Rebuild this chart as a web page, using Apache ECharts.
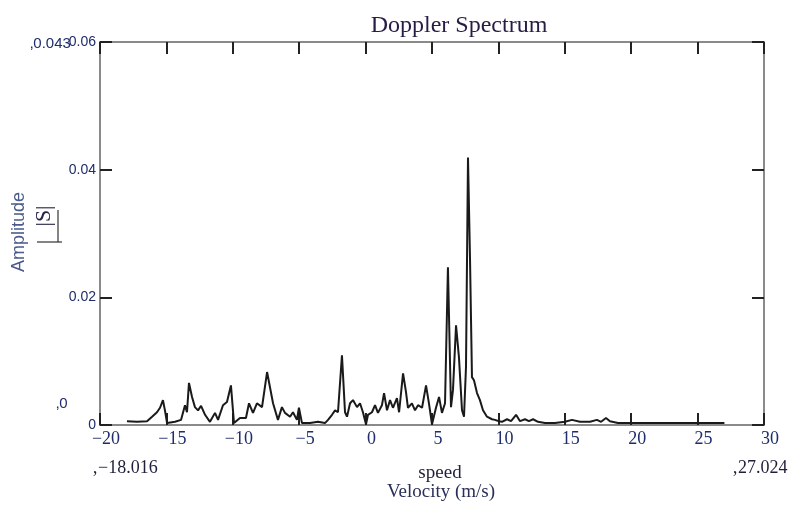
<!DOCTYPE html>
<html>
<head>
<meta charset="utf-8">
<script src="https://cdn.jsdelivr.net/npm/echarts@6/dist/echarts.min.js"></script>
<style>
html,body{margin:0;padding:0;background:#fff;}
#chart{width:791px;height:507px;}
</style>
</head>
<body>
<div id="chart"></div>
<script>
// Data
var velocity = [-17.97,-17.21,-16.46,-16.08,-15.71,-15.48,-15.26,-15.11,-14.95,-14.35,-13.90,-13.60,-13.45,-13.30,-13.07,-12.85,-12.62,-12.39,-12.09,-11.72,-11.34,-11.11,-10.74,-10.44,-10.14,-9.91,-9.46,-9.01,-8.78,-8.48,-8.18,-7.80,-7.42,-6.97,-6.60,-6.30,-6.07,-5.69,-5.47,-5.17,-5.02,-4.79,-4.19,-3.58,-3.06,-2.83,-2.53,-2.30,-2.08,-1.78,-1.55,-1.40,-1.17,-0.95,-0.65,-0.42,-0.20,0.03,0.18,0.48,0.71,0.93,1.23,1.39,1.61,1.84,2.06,2.36,2.52,2.82,3.04,3.19,3.49,3.72,3.95,4.25,4.55,4.77,5.00,5.30,5.53,5.75,5.98,6.20,6.43,6.58,6.81,7.03,7.26,7.41,7.56,7.71,7.86,8.01,8.16,8.39,8.61,8.84,9.14,9.52,9.74,10.05,10.27,10.65,10.95,11.33,11.63,12.00,12.30,12.61,12.98,13.51,14.26,15.02,15.54,16.14,16.90,17.42,17.73,18.10,18.40,19.01,19.91,21.42,22.92,24.43,25.93,27.02];
var amplitude = [0.0006,0.0005,0.0006,0.0013,0.0020,0.0027,0.0039,0.0023,0.0003,0.0005,0.0008,0.0031,0.0020,0.0066,0.0044,0.0028,0.0023,0.0030,0.0016,0.0005,0.0019,0.0008,0.0031,0.0036,0.0062,0.0003,0.0011,0.0011,0.0034,0.0019,0.0034,0.0028,0.0083,0.0034,0.0008,0.0028,0.0019,0.0013,0.0020,0.0008,0.0027,0.0003,0.0003,0.0005,0.0003,0.0008,0.0016,0.0023,0.0020,0.0109,0.0020,0.0013,0.0034,0.0039,0.0028,0.0034,0.0020,0.0001,0.0016,0.0020,0.0031,0.0019,0.0031,0.0050,0.0023,0.0039,0.0027,0.0042,0.0020,0.0081,0.0052,0.0027,0.0034,0.0023,0.0031,0.0027,0.0062,0.0034,0.0001,0.0027,0.0044,0.0019,0.0034,0.0247,0.0028,0.0055,0.0156,0.0106,0.0023,0.0013,0.0091,0.0419,0.0263,0.0075,0.0070,0.0050,0.0039,0.0023,0.0013,0.0009,0.0008,0.0006,0.0005,0.0009,0.0006,0.0016,0.0006,0.0009,0.0006,0.0009,0.0005,0.0003,0.0003,0.0005,0.0008,0.0005,0.0005,0.0008,0.0005,0.0011,0.0006,0.0003,0.0003,0.0003,0.0003,0.0003,0.0003,0.0003];
var xTicks = {min: -20, max: 30, step: 5};
var yTicks = {min: 0, max: 0.06, step: 0.02};

var pts = velocity.map(function (v, i) { return [v, amplitude[i]]; });
var labelColor = '#1f2d6b';
var serif = '"Liberation Serif", "DejaVu Serif", serif';
var sans = '"Liberation Sans", Arial, sans-serif';
var frame = {show: true, onZero: false, lineStyle: {color: '#8a8a8a', width: 2}};
var tick = {show: true, inside: true, length: 12, lineStyle: {color: '#222', width: 2}};

var chart = echarts.init(document.getElementById('chart'), null, {renderer: 'canvas'});
chart.setOption({
  animation: false,
  backgroundColor: '#fff',
  title: {
    text: 'Doppler Spectrum',
    left: 454, top: 9, textAlign: 'center',
    textStyle: {fontFamily: serif, fontSize: 24, fontWeight: 'normal', color: '#261c44'}
  },
  grid: {left: 100, right: 27, top: 42, bottom: 82, containLabel: false},
  xAxis: [{
    type: 'value', position: 'bottom',
    min: xTicks.min, max: xTicks.max, interval: xTicks.step,
    axisLine: frame, axisTick: tick, splitLine: {show: false},
    axisLabel: {
      margin: 5, padding: [0, 0, 0, 12],
      fontFamily: serif, fontSize: 18, color: labelColor,
      formatter: function (v) { return v < 0 ? '\u2212' + Math.abs(v) : String(v); }
    }
  }, {
    type: 'value', position: 'top',
    min: xTicks.min, max: xTicks.max, interval: xTicks.step,
    axisLine: frame, axisTick: tick, axisLabel: {show: false}, splitLine: {show: false}
  }],
  yAxis: [{
    type: 'value', position: 'left',
    min: yTicks.min, max: yTicks.max, interval: yTicks.step,
    axisLine: frame, axisTick: tick, splitLine: {show: false},
    axisLabel: {margin: 4, fontFamily: sans, fontSize: 14, color: labelColor,
      formatter: function (v) { return v === 0 ? '0' : v.toFixed(2); }}
  }, {
    type: 'value', position: 'right',
    min: yTicks.min, max: yTicks.max, interval: yTicks.step,
    axisLine: frame, axisTick: tick, axisLabel: {show: false}, splitLine: {show: false}
  }],
  series: [{
    type: 'line', data: pts, showSymbol: false, symbol: 'none',
    lineStyle: {color: '#1a1a1a', width: 2}, z: 3
  }],
  graphic: [
    {type: 'text', left: 30, top: 36, style: {text: '\u201A0.043', font: '15px ' + sans, fill: labelColor}},
    {type: 'text', left: 56, top: 396, style: {text: '\u201A0', font: '15px ' + sans, fill: labelColor}},
    {type: 'text', left: 92, top: 459, style: {text: '\u201A\u221218.016', font: '18px ' + serif, fill: '#1f1f3a'}},
    {type: 'text', left: 732, top: 459, style: {text: '\u201A27.024', font: '18px ' + serif, fill: '#1f1f3a'}},
    {type: 'text', x: 440, y: 464, style: {text: 'speed', font: '19px ' + serif, fill: '#1f1f3a', textAlign: 'center'}},
    {type: 'text', x: 441, y: 483, style: {text: 'Velocity (m/s)', font: '19px ' + serif, fill: '#2a2f5a', textAlign: 'center'}},
    {type: 'text', x: 10, y: 232, rotation: Math.PI / 2,
      style: {text: 'Amplitude', font: '18px ' + sans, fill: '#4a5a8a', textAlign: 'center', textVerticalAlign: 'top'}},
    {type: 'text', x: 33, y: 216, rotation: Math.PI / 2,
      style: {text: '|S|', font: '22px ' + serif, fill: '#222244', textAlign: 'center', textVerticalAlign: 'top'}},
    {type: 'line', shape: {x1: 58, y1: 210, x2: 58, y2: 242}, style: {stroke: '#333', lineWidth: 1.2}},
    {type: 'line', shape: {x1: 37, y1: 242, x2: 62, y2: 242}, style: {stroke: '#333', lineWidth: 1.2}}
  ]
});
</script>
</body>
</html>
